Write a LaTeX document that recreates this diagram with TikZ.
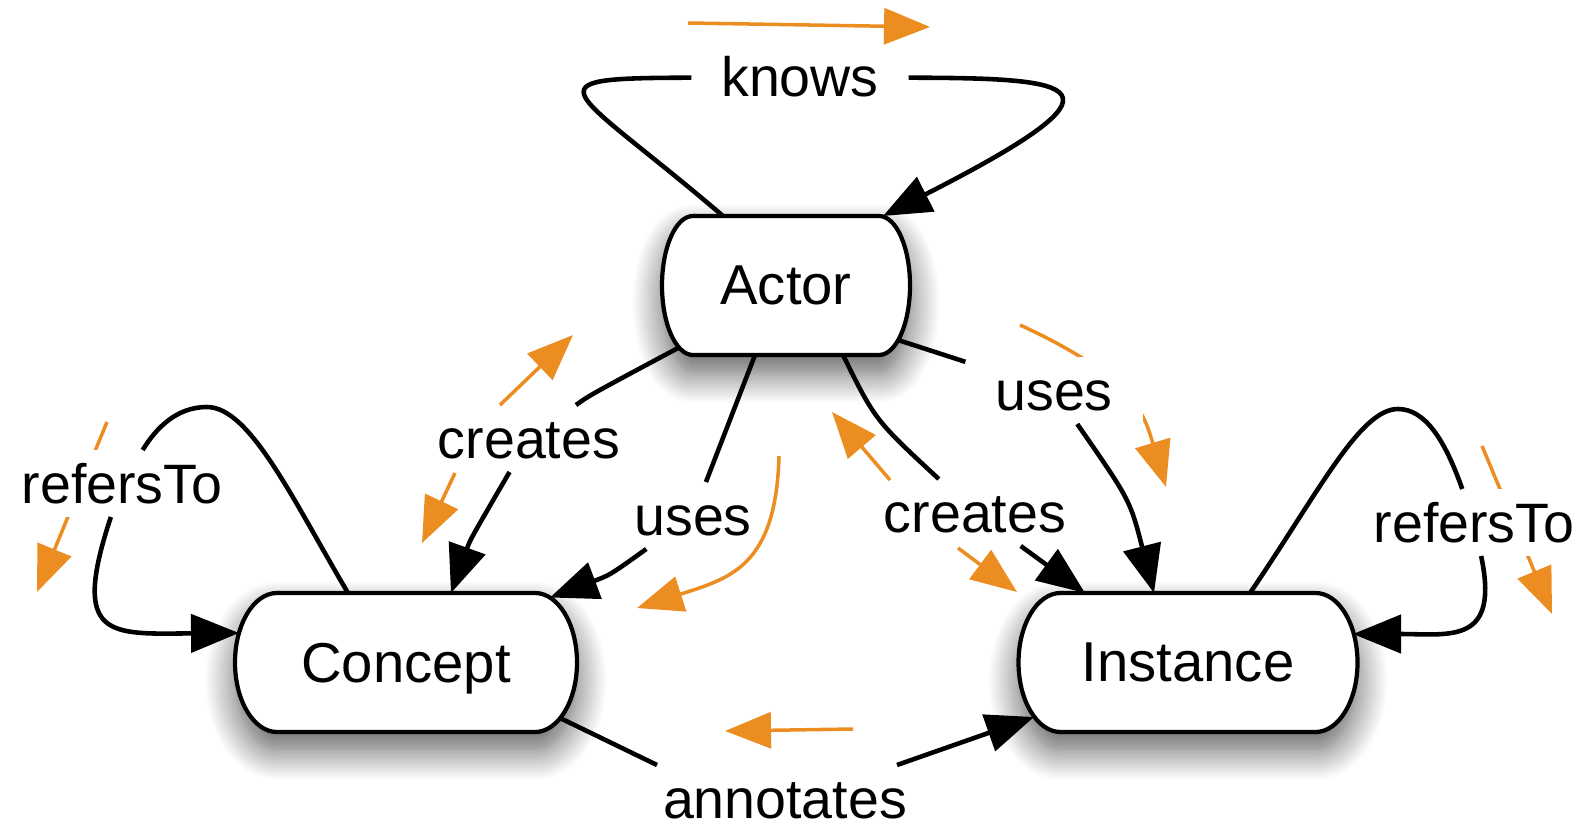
\documentclass[tikz,border=0pt]{standalone}
\usepackage{fontspec}
\setmainfont{Liberation Sans}
\usetikzlibrary{arrows.meta,shadows.blur}

\definecolor{flowcolor}{RGB}{236,141,34}
\pgfdeclarelayer{background}
\pgfsetlayers{background,main}

\begin{document}
\begin{tikzpicture}[
  entity/.style={rectangle, outer sep=0pt, inner sep=0pt, minimum height=1.39cm,
    text depth=0pt, font=\fontsize{16}{19}\selectfont},
  rel/.style={fill=white, anchor=base, inner xsep=0.3cm, inner ysep=0.14cm, outer sep=0pt,
    text height=0.39cm, text depth=0pt, font=\fontsize{15.8}{19}\selectfont},
  box/.style={line width=1.2pt, fill=white,
    blur shadow={shadow xshift=0pt, shadow yshift=-0.18cm, shadow blur radius=0.3cm,
      shadow blur steps=16, shadow opacity=65}},
  link/.style={line width=1.3pt},
  arr/.style={-{Triangle[length=0.48cm,width=0.38cm,fill=black]}},
  flow/.style={flowcolor, line width=1pt, -{Triangle[length=0.46cm,width=0.36cm]}}
]
\useasboundingbox (0,0) rectangle (15.83,8.25);

% classes
\node[entity, minimum width=2.48cm] (actor) at (7.86,5.395) {Actor};
\node[entity, minimum width=3.42cm] (concept) at (4.06,1.625) {Concept};
\node[entity, minimum width=3.39cm] (instance) at (11.88,1.625) {Instance};

% relation labels
\node[rel] (knows) at (8.00,7.28) {knows};
\node[rel] (creates1) at (5.29,3.67) {creates};
\node[rel] (uses1) at (6.93,2.90) {uses};
\node[rel] (creates2) at (9.75,2.93) {creates};
\node[rel] (uses2) at (10.54,4.15) {uses};
\node[rel] (refersTo1) at (1.22,3.22) {refersTo};
\node[rel] (refersTo2) at (14.74,2.83) {refersTo};
\node[rel] (annotates) at (7.85,0.07) {annotates};

\begin{pgfonlayer}{background}
\foreach \n/\rad in {actor/0.31, concept/0.42, instance/0.42}
  \draw[box] ([xshift=\rad cm]\n.north west) -- ([xshift=-\rad cm]\n.north east)
    arc[start angle=90, end angle=-90, x radius=\rad cm, y radius=0.695cm]
    -- ([xshift=\rad cm]\n.south west)
    arc[start angle=270, end angle=90, x radius=\rad cm, y radius=0.695cm] -- cycle;
% reading direction, running under the labels
\draw[flow] (10.20,5.00) .. controls (11.35,4.47) and (11.44,4.11) .. (11.66,3.38);
\draw[flow] (14.82,3.79) -- (15.52,2.11);
\draw[flow] (1.07,4.03) -- (0.37,2.33);
\end{pgfonlayer}

% knows
\draw[link] ([xshift=-0.63cm]actor.north) .. controls (5.70,7.40) and (5.20,7.47) .. (knows);
\draw[link,arr] (knows) .. controls (10.80,7.47) and (11.40,7.40) .. ([xshift=0.97cm]actor.north);

% Actor -> Concept
\draw[link] ([shift={(-1.07,-0.62)}]actor.center) .. controls (5.90,4.30) .. (creates1);
\draw[link,arr] (creates1) .. controls (4.70,2.85) .. ([xshift=0.45cm]concept.north);
\draw[link] ([xshift=-0.31cm]actor.south) -- (uses1);
\draw[link,arr] (uses1) .. controls (6.10,2.50) .. ([shift={(1.44,0.65)}]concept.center);

% Actor -> Instance
\draw[link] ([xshift=0.57cm]actor.south) .. controls (8.75,4.05) .. (creates2);
\draw[link,arr] (creates2) -- ([xshift=-1.03cm]instance.north);
\draw[link] ([shift={(1.12,-0.545)}]actor.center) -- (uses2);
\draw[link,arr] (uses2) .. controls (11.30,3.25) .. ([xshift=-0.34cm]instance.north);

% refersTo
\draw[link] ([xshift=-0.58cm]concept.north) .. controls (2.93,3.25) and (2.50,4.18) .. (2.07,4.18)
  .. controls (1.75,4.18) and (1.55,3.95) .. (refersTo1);
\draw[link,arr] (refersTo1) .. controls (0.70,1.85) and (1.10,1.91) .. ([shift={(-1.67,0.295)}]concept.center);
\draw[link] ([xshift=0.62cm]instance.north) .. controls (13.20,3.35) and (13.60,4.16) .. (13.98,4.16)
  .. controls (14.25,4.16) and (14.45,3.85) .. (refersTo2);
\draw[link,arr] (refersTo2) .. controls (15.00,1.80) and (14.50,1.91) .. ([shift={(1.65,0.285)}]instance.center);

% annotates
\draw[link] ([shift={(1.54,-0.555)}]concept.center) -- ([xshift=-1.28cm]annotates.north);
\draw[link,arr] ([xshift=1.12cm]annotates.north) -- ([shift={(-1.54,-0.545)}]instance.center);

% reading direction
\draw[flow] (6.88,8.02) -- (9.30,7.98);
\draw[flow] (5.00,4.20) -- (5.73,4.90);
\draw[flow] (4.55,3.52) -- (4.22,2.82);
\draw[flow] (7.79,3.69) .. controls (7.76,2.59) and (7.31,2.47) .. (6.37,2.17);
\draw[flow] (8.90,3.45) -- (8.32,4.13);
\draw[flow] (9.58,2.77) -- (10.17,2.33);
\draw[flow] (8.53,0.96) -- (7.25,0.94);

\end{tikzpicture}
\end{document}
